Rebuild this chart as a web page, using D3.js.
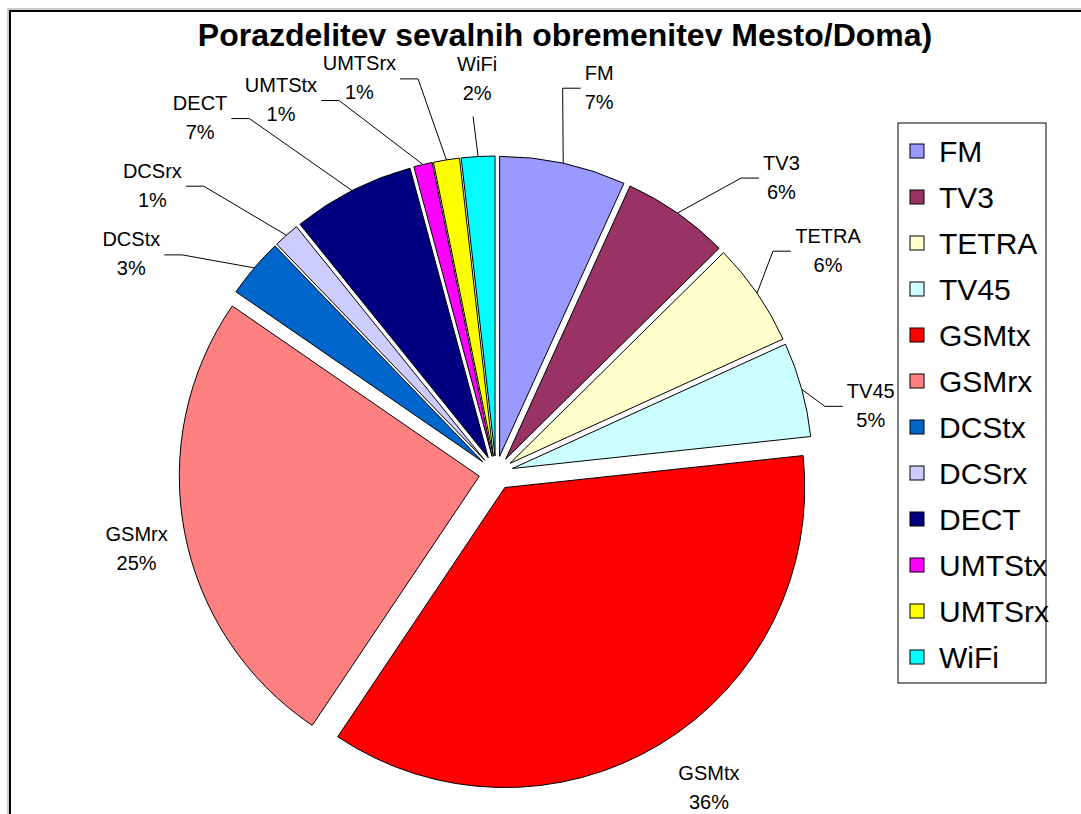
<!DOCTYPE html>
<html>
<head>
<meta charset="utf-8">
<script src="https://cdn.jsdelivr.net/npm/d3@7"></script>
<style>
  html, body { margin: 0; padding: 0; background: #fff; }
  svg { display: block; font-family: "Liberation Sans", Arial, sans-serif; }
</style>
</head>
<body>
<svg id="chart" width="1081" height="814"></svg>
<script>
// chart data
const categories = ["FM", "TV3", "TETRA", "TV45", "GSMtx", "GSMrx", "DCStx", "DCSrx", "DECT", "UMTStx", "UMTSrx", "WiFi"];
const values = [6.8, 5.8, 5.6, 5.1, 36.1, 25.2, 3.2, 1.4, 6.6, 1.0, 1.4, 1.8];
const colors = ["#9999FF", "#993366", "#FFFFCC", "#CCFFFF", "#FF0000", "#FF8080", "#0066CC", "#CCCCFF", "#000080", "#FF00FF", "#FFFF00", "#00FFFF"];
const title = "Porazdelitev sevalnih obremenitev Mesto/Doma)";

// where each label block sits, relative to the middle of its slice's outer arc
const labelNudge = {
    FM: [36, -76], TV3: [104, -36], TETRA: [71, -43], TV45: [69, 16],
    GSMtx: [49, 43], GSMrx: [-48, 16], DCStx: [-123, -14], DCSrx: [-134, -50],
    DECT: [-152, -73], UMTStx: [-142, -65], UMTSrx: [-87, -82], WiFi: [-1, -78]
};
const noLeader = ["GSMtx", "GSMrx"];

const cx = 496, cy = 473, radius = 300, explode = 17;

const svg = d3.select("#chart");

// outer chart frame (runs off the page on the right and bottom)
svg.append("rect")
    .attr("x", 8).attr("y", 9).attr("width", 1200).attr("height", 1000)
    .attr("fill", "none").attr("stroke", "#999").attr("stroke-width", 1);
svg.append("rect")
    .attr("x", 10).attr("y", 11).attr("width", 1200).attr("height", 1000)
    .attr("fill", "none").attr("stroke", "#000").attr("stroke-width", 2);

svg.append("text")
    .attr("x", 565).attr("y", 46)
    .attr("text-anchor", "middle")
    .style("font-weight", "bold")
    .style("font-size", "32px")
    .text(title);

const data = categories.map((name, i) => ({ name, value: values[i], color: colors[i] }));
const total = d3.sum(values);
const fmtPct = d3.format(".0%");

const pie = d3.pie().sort(null).value((d) => d.value);
const arcGen = d3.arc().innerRadius(0).outerRadius(radius);
const arcs = pie(data);

const dir = (a) => [Math.sin(a), -Math.cos(a)];

const g = svg.append("g").attr("transform", `translate(${cx},${cy})`);

// slices, each pushed out along its middle angle
g.selectAll("path.slice")
    .data(arcs)
    .enter()
    .append("path")
    .attr("class", "slice")
    .attr("d", arcGen)
    .attr("transform", (d) => {
        const [ux, uy] = dir((d.startAngle + d.endAngle) / 2);
        return `translate(${ux * explode},${uy * explode})`;
    })
    .attr("fill", (d) => d.data.color)
    .attr("stroke", "#000")
    .attr("stroke-width", 1);

// labels and leader lines
const lineGap = 29, fontSize = 20;
arcs.forEach((d) => {
    const [ux, uy] = dir((d.startAngle + d.endAngle) / 2);
    const ax = ux * (explode + radius);
    const ay = uy * (explode + radius);
    const [nx, ny] = labelNudge[d.data.name];
    const bx = ax + nx, by = ay + ny;

    const t = g.append("text")
        .attr("text-anchor", "middle")
        .style("font-size", fontSize + "px")
        .attr("fill", "#000");
    t.append("tspan").attr("x", bx).attr("y", by - lineGap / 2 + 7).text(d.data.name);
    t.append("tspan").attr("x", bx).attr("y", by + lineGap / 2 + 7).text(fmtPct(d.data.value / total));

    if (noLeader.includes(d.data.name)) return;
    const w = t.node().getBBox().width;
    let pts;
    if (Math.abs(ax - bx) < w / 2) {
        pts = [[bx - 4, by + 38], [ax, ay]];
    } else if (ax > bx) {
        const sx = bx + w / 2 + 4;
        pts = [[sx, by + 1], [sx + 18, by + 1], [ax, ay]];
    } else {
        const sx = bx - w / 2 - 4;
        pts = [[sx, by + 1], [sx - 18, by + 1], [ax, ay]];
    }
    g.append("path")
        .attr("d", d3.line()(pts))
        .attr("fill", "none")
        .attr("stroke", "#000")
        .attr("stroke-width", 1);
});

// legend
const legend = svg.append("g");
legend.append("rect")
    .attr("x", 898).attr("y", 123).attr("width", 148).attr("height", 560)
    .attr("fill", "#fff").attr("stroke", "#000").attr("stroke-width", 1);

const rowY = d3.scalePoint().domain(categories).range([151, 657]);
const rows = legend.selectAll("g.row")
    .data(data)
    .enter()
    .append("g")
    .attr("class", "row")
    .attr("transform", (d) => `translate(0,${rowY(d.name)})`);
rows.append("rect")
    .attr("x", 910).attr("y", -7).attr("width", 14).attr("height", 14)
    .attr("fill", (d) => d.color)
    .attr("stroke", "#000").attr("stroke-width", 1);
rows.append("text")
    .attr("x", 939).attr("y", 11)
    .style("font-size", "30px")
    .text((d) => d.name);
</script>
</body>
</html>
